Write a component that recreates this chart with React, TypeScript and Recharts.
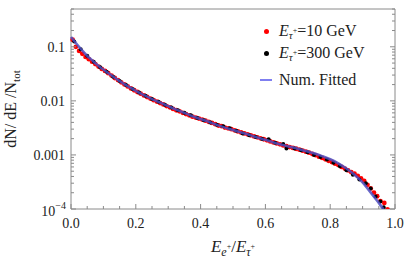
import { ComposedChart, Scatter, XAxis, YAxis } from 'recharts';

// fitted curve (blue)
const fitX = [0, 0.01, 0.02, 0.03, 0.04, 0.05, 0.06, 0.07, 0.08, 0.09, 0.1, 0.12, 0.14, 0.16, 0.18, 0.2, 0.225, 0.25, 0.275, 0.3, 0.325, 0.35, 0.375, 0.4, 0.425, 0.45, 0.475, 0.5, 0.525, 0.55, 0.575, 0.6, 0.625, 0.65, 0.675, 0.7, 0.725, 0.75, 0.775, 0.8, 0.825, 0.85, 0.875, 0.9, 0.92, 0.94, 0.955, 0.97];
const fitY = [0.152, 0.128, 0.108, 0.092, 0.079, 0.068, 0.06, 0.053, 0.047, 0.042, 0.038, 0.031, 0.0255, 0.0213, 0.018, 0.0153, 0.0128, 0.0108, 0.0093, 0.008, 0.0069, 0.006, 0.0052, 0.0046, 0.0041, 0.0036, 0.0032, 0.0029, 0.0026, 0.00235, 0.0021, 0.0019, 0.0017, 0.00155, 0.00142, 0.0013, 0.00118, 0.00107, 0.00095, 0.00083, 0.0007, 0.00056, 0.00043, 0.00031, 0.00022, 0.000155, 0.000118, 0.000088];

// E = 10 GeV (red)
const redX = [0.005, 0.015, 0.025, 0.035, 0.045, 0.055, 0.065, 0.075, 0.085, 0.095, 0.105, 0.115, 0.125, 0.135, 0.145, 0.155, 0.165, 0.175, 0.185, 0.195, 0.205, 0.215, 0.225, 0.235, 0.245, 0.255, 0.265, 0.275, 0.285, 0.295, 0.305, 0.315, 0.325, 0.335, 0.345, 0.355, 0.365, 0.375, 0.385, 0.395, 0.405, 0.415, 0.425, 0.435, 0.445, 0.455, 0.465, 0.475, 0.485, 0.495, 0.505, 0.515, 0.525, 0.535, 0.545, 0.555, 0.565, 0.575, 0.585, 0.595, 0.605, 0.615, 0.625, 0.635, 0.645, 0.655, 0.665, 0.675, 0.685, 0.695, 0.705, 0.715, 0.725, 0.735, 0.745, 0.755, 0.765, 0.775, 0.785, 0.795, 0.805, 0.815, 0.825, 0.835, 0.845, 0.855, 0.865, 0.875, 0.885, 0.895, 0.905, 0.915, 0.925, 0.935, 0.945, 0.955, 0.967, 0.977];
const redY = [0.135, 0.1, 0.084, 0.074, 0.065, 0.059, 0.053, 0.048, 0.043, 0.039, 0.0358, 0.0325, 0.0293, 0.0265, 0.0242, 0.022, 0.0201, 0.0185, 0.017, 0.0157, 0.0146, 0.0136, 0.0126, 0.0118, 0.011, 0.0103, 0.0097, 0.0091, 0.0086, 0.008, 0.0076, 0.0071, 0.0067, 0.0064, 0.006, 0.0057, 0.0054, 0.0051, 0.0049, 0.0047, 0.0045, 0.0043, 0.0041, 0.0039, 0.0037, 0.0035, 0.0034, 0.0032, 0.0031, 0.003, 0.00285, 0.00272, 0.0026, 0.0025, 0.0024, 0.0023, 0.0022, 0.00212, 0.00203, 0.00195, 0.00186, 0.00178, 0.0017, 0.00163, 0.00157, 0.0015, 0.00145, 0.0014, 0.00135, 0.0013, 0.00125, 0.0012, 0.00115, 0.0011, 0.00104, 0.00099, 0.00093, 0.00088, 0.00083, 0.00078, 0.00074, 0.00069, 0.00065, 0.0006, 0.00056, 0.00052, 0.00048, 0.00045, 0.00041, 0.00037, 0.00033, 0.00028, 0.00024, 0.0002, 0.000172, 0.00014, 0.000129, 0.000098];

// E = 300 GeV (black)
const blackX = [0.01, 0.03, 0.05, 0.07, 0.09, 0.11, 0.13, 0.15, 0.17, 0.19, 0.21, 0.23, 0.25, 0.27, 0.29, 0.31, 0.33, 0.35, 0.37, 0.39, 0.41, 0.43, 0.45, 0.47, 0.49, 0.51, 0.53, 0.55, 0.57, 0.59, 0.61, 0.63, 0.655, 0.665, 0.69, 0.71, 0.73, 0.75, 0.77, 0.79, 0.81, 0.83, 0.85, 0.87, 0.89, 0.91, 0.925, 0.94, 0.955, 0.965];
const blackY = [0.125, 0.09, 0.068, 0.053, 0.042, 0.0345, 0.028, 0.0234, 0.0196, 0.0166, 0.0143, 0.0124, 0.0108, 0.0096, 0.0085, 0.0075, 0.0067, 0.006, 0.0054, 0.0048, 0.0044, 0.004, 0.0036, 0.0034, 0.0031, 0.0028, 0.0025, 0.0023, 0.00215, 0.00198, 0.00195, 0.00168, 0.0016, 0.00132, 0.00132, 0.00122, 0.00112, 0.001, 0.00092, 0.00082, 0.00072, 0.00062, 0.00052, 0.00043, 0.00035, 0.0003, 0.00024, 0.00017, 0.000137, 0.000108];

const xTicks = [0, 0.05, 0.1, 0.15, 0.2, 0.25, 0.3, 0.35, 0.4, 0.45, 0.5, 0.55, 0.6, 0.65, 0.7, 0.75, 0.8, 0.85, 0.9, 0.95, 1];
const yTicks = [0.0001, 0.0002, 0.0003, 0.0004, 0.0005, 0.0006, 0.0007, 0.0008, 0.0009, 0.001, 0.002, 0.003, 0.004, 0.005, 0.006, 0.007, 0.008, 0.009, 0.01, 0.02, 0.03, 0.04, 0.05, 0.06, 0.07, 0.08, 0.09, 0.1, 0.2, 0.3, 0.4, 0.5];

const fitData = fitX.map((x, i) => ({ x, y: fitY[i] }));
const redData = redX.map((x, i) => ({ x, y: redY[i] }));
const blackData = blackX.map((x, i) => ({ x, y: blackY[i] }));

const FONT = '"Liberation Serif", "DejaVu Serif", serif';
const FRAME = '#8a8a8a';
const BLUE = '#4e4ec0';

const isMajorX = (v: number) => Math.abs(v * 5 - Math.round(v * 5)) < 1e-6;
const isMajorY = (v: number) => Math.abs(Math.log10(v) - Math.round(Math.log10(v))) < 1e-6;

const BottomTick = ({ x, y, payload }: any) => {
  const major = isMajorX(payload.value);
  return (
    <g>
      <line x1={x} x2={x} y1={y} y2={y - (major ? 5 : 3)} stroke={FRAME} />
      {major && (
        <text x={x} y={y + 19} textAnchor="middle" fontFamily={FONT} fontSize={14} fill="#222">
          {payload.value.toFixed(1)}
        </text>
      )}
    </g>
  );
};

const TopTick = ({ x, y, payload }: any) => {
  const major = isMajorX(payload.value);
  return <line x1={x} x2={x} y1={y} y2={y + (major ? 5 : 3)} stroke={FRAME} />;
};

const LeftTick = ({ x, y, payload }: any) => {
  const v = payload.value;
  const major = isMajorY(v);
  const e = Math.round(Math.log10(v));
  return (
    <g>
      <line x1={x} x2={x + (major ? 5 : 3)} y1={y} y2={y} stroke={FRAME} />
      {major && (e > -4 ? (
        <text x={x - 6} y={y + 5} textAnchor="end" fontFamily={FONT} fontSize={14} fill="#222">
          {String(v)}
        </text>
      ) : (
        <text x={x - 5} y={y + 7} textAnchor="end" fontFamily={FONT} fontSize={14} fill="#222">
          10<tspan fontSize={10} dy={-7}>−4</tspan>
        </text>
      ))}
    </g>
  );
};

const RightTick = ({ x, y, payload }: any) => {
  const major = isMajorY(payload.value);
  return <line x1={x} x2={x - (major ? 5 : 3)} y1={y} y2={y} stroke={FRAME} />;
};

const dot = (color: string, r: number) => (props: any) => <circle cx={props.cx} cy={props.cy} r={r} fill={color} />;
const noDot = () => <g />;

const XTitle = ({ viewBox }: any) => (
  <text x={viewBox.x + viewBox.width / 2} y={viewBox.y + 43} textAnchor="middle" fontFamily={FONT} fontSize={17} fill="#222">
    <tspan fontStyle="italic">E</tspan>
    <tspan fontStyle="italic" fontSize={12} dy={4}>e</tspan>
    <tspan fontSize={8} dy={-7}>+</tspan>
    <tspan dy={3}>/</tspan>
    <tspan fontStyle="italic">E</tspan>
    <tspan fontStyle="italic" fontSize={12} dy={4}>τ</tspan>
    <tspan fontSize={8} dy={-7}>+</tspan>
  </text>
);

const YTitle = ({ viewBox }: any) => {
  const cy = viewBox.y + viewBox.height / 2;
  return (
    <text x={16} y={cy} transform={`rotate(-90, 16, ${cy})`} textAnchor="middle" fontFamily={FONT} fontSize={16} fill="#222">
      dN/ dE /N<tspan fontSize={11} dy={4}>tot</tspan>
    </text>
  );
};

const LegendTau = ({ energy }: { energy: string }) => (
  <span>
    <i>E</i>
    <sub style={{ fontSize: 11, verticalAlign: -3 }}>
      <i>τ</i>
      <sup style={{ fontSize: 8, verticalAlign: 6 }}>+</sup>
    </sub>
    ={energy} GeV
  </span>
);

const legendRow = (top: number) => ({
  position: 'absolute' as const,
  left: 253,
  top: top - 11,
  height: 22,
  display: 'flex',
  alignItems: 'center',
  whiteSpace: 'nowrap' as const,
});

export default function App() {
  return (
    <div style={{ position: 'absolute', left: 0, top: 0, width: 405, height: 266, background: '#fff' }}>
      <ComposedChart width={405} height={266} margin={{ top: 8, right: 9, bottom: 56, left: 70 }}>
        <XAxis
          dataKey="x"
          type="number"
          domain={[0, 1]}
          ticks={xTicks}
          interval={0}
          height={1}
          tickSize={0}
          tickMargin={0}
          stroke={FRAME}
          tick={<BottomTick />}
          label={<XTitle />}
        />
        <XAxis
          xAxisId="top"
          orientation="top"
          type="number"
          domain={[0, 1]}
          ticks={xTicks}
          interval={0}
          height={1}
          tickSize={0}
          tickMargin={0}
          stroke={FRAME}
          tick={<TopTick />}
        />
        <YAxis
          dataKey="y"
          scale="log"
          type="number"
          domain={[0.0001, 0.5]}
          allowDataOverflow
          ticks={yTicks}
          interval={0}
          width={1}
          tickSize={0}
          tickMargin={0}
          stroke={FRAME}
          tick={<LeftTick />}
          label={<YTitle />}
        />
        <YAxis
          yAxisId="right"
          orientation="right"
          scale="log"
          type="number"
          domain={[0.0001, 0.5]}
          allowDataOverflow
          ticks={yTicks}
          interval={0}
          width={1}
          tickSize={0}
          tickMargin={0}
          stroke={FRAME}
          tick={<RightTick />}
        />
        <Scatter data={redData} dataKey="y" fill="#ff0000" shape={dot('#ff0000', 2.4)} isAnimationActive={false} />
        <Scatter data={blackData} dataKey="y" fill="#000" shape={dot('#000', 2)} isAnimationActive={false} />
        <Scatter
          data={fitData}
          dataKey="y"
          shape={noDot}
          line={{ stroke: BLUE, strokeOpacity: 0.85, strokeWidth: 2.6, fill: 'none' }}
          lineJointType="monotoneX"
          isAnimationActive={false}
        />
      </ComposedChart>
      <div style={{ fontFamily: FONT, fontSize: 16, color: '#222' }}>
        <div style={legendRow(31)}>
          <span style={{ width: 26, display: 'inline-flex', justifyContent: 'center' }}>
            <span style={{ width: 5, height: 5, borderRadius: 3, background: '#ff0000' }} />
          </span>
          <LegendTau energy="10" />
        </div>
        <div style={legendRow(53)}>
          <span style={{ width: 26, display: 'inline-flex', justifyContent: 'center' }}>
            <span style={{ width: 5, height: 5, borderRadius: 3, background: '#000' }} />
          </span>
          <LegendTau energy="300" />
        </div>
        <div style={legendRow(80)}>
          <span style={{ width: 26, display: 'inline-flex', justifyContent: 'center' }}>
            <span style={{ width: 12, height: 2, background: '#7f7ff0' }} />
          </span>
          <span>Num. Fitted</span>
        </div>
      </div>
    </div>
  );
}
